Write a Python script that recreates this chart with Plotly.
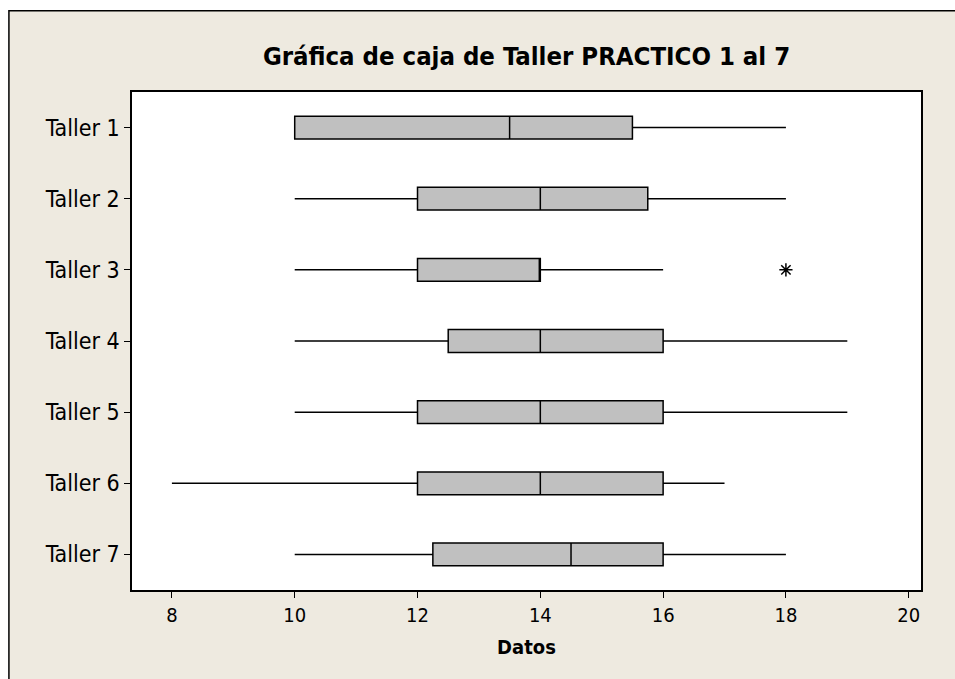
import plotly.graph_objects as go

# Summary statistics
talleres = ['Taller 1', 'Taller 2', 'Taller 3', 'Taller 4', 'Taller 5', 'Taller 6', 'Taller 7']
minimos = [10, 10, 10, 10, 10, 8, 10]
q1 = [10, 12, 12, 12.5, 12, 12, 12.25]
medianas = [13.5, 14, 14, 14, 14, 14, 14.5]
q3 = [15.5, 15.75, 14, 16, 16, 16, 16]
maximos = [18, 18, 16, 19, 19, 17, 18]

atipicos_x = [18]
atipicos_y = ['Taller 3']

x_ticks = [8, 10, 12, 14, 16, 18, 20]

FONT = 'DejaVu Sans Condensed'
BEIGE = '#EEEAE0'

fig = go.Figure()

fig.add_trace(go.Box(
    y=talleres,
    q1=q1,
    median=medianas,
    q3=q3,
    lowerfence=minimos,
    upperfence=maximos,
    orientation='h',
    width=0.32,
    whiskerwidth=0,
    fillcolor='#C0C0C0',
    line=dict(color='black', width=1.5),
    boxpoints=False,
    showlegend=False,
))

fig.add_trace(go.Scatter(
    x=atipicos_x,
    y=atipicos_y,
    mode='markers',
    marker=dict(symbol='asterisk-open', size=11, color='black',
                line=dict(color='black', width=1.5)),
    showlegend=False,
))

# Beige frame with dark top/left edge, white plot area on top
fig.add_shape(type='rect', xref='paper', yref='paper',
              x0=-0.156, x1=1.2, y0=-0.3, y1=1.163,
              fillcolor=BEIGE, line=dict(color='black', width=1.5), layer='below')
fig.add_shape(type='rect', xref='paper', yref='paper',
              x0=0, x1=1, y0=0, y1=1,
              fillcolor='white', line=dict(width=0), layer='below')

fig.update_xaxes(
    range=[7.35, 20.2],
    tickmode='array',
    tickvals=x_ticks,
    ticks='outside',
    ticklen=6,
    tickcolor='black',
    showgrid=False,
    zeroline=False,
    showline=True,
    linecolor='black',
    linewidth=1.5,
    mirror=True,
    tickfont=dict(family=FONT, size=20, color='black'),
    title=dict(text='<b>Datos</b>', font=dict(family=FONT, size=20, color='black'), standoff=14),
)

fig.update_yaxes(
    type='category',
    categoryorder='array',
    categoryarray=talleres,
    range=[6.5, -0.5],
    ticks='outside',
    ticklen=6,
    tickcolor='black',
    showgrid=False,
    zeroline=False,
    showline=True,
    linecolor='black',
    linewidth=1.5,
    mirror=True,
    tickfont=dict(family=FONT, size=23, color='black'),
)

fig.update_layout(
    width=955,
    height=679,
    margin=dict(l=132, r=34, t=92, b=89),
    paper_bgcolor='white',
    plot_bgcolor='white',
    title=dict(
        text='<b>Gráfica de caja de Taller PRACTICO 1 al 7</b>',
        x=0.5,
        xref='paper',
        xanchor='center',
        y=0.918,
        yanchor='middle',
        font=dict(family=FONT, size=25.5, color='black'),
    ),
    showlegend=False,
)

fig.write_html(
    "out.html",
    config={'displayModeBar': False},
    post_script="document.body.style.margin='0';document.body.style.overflow='hidden';",
)
